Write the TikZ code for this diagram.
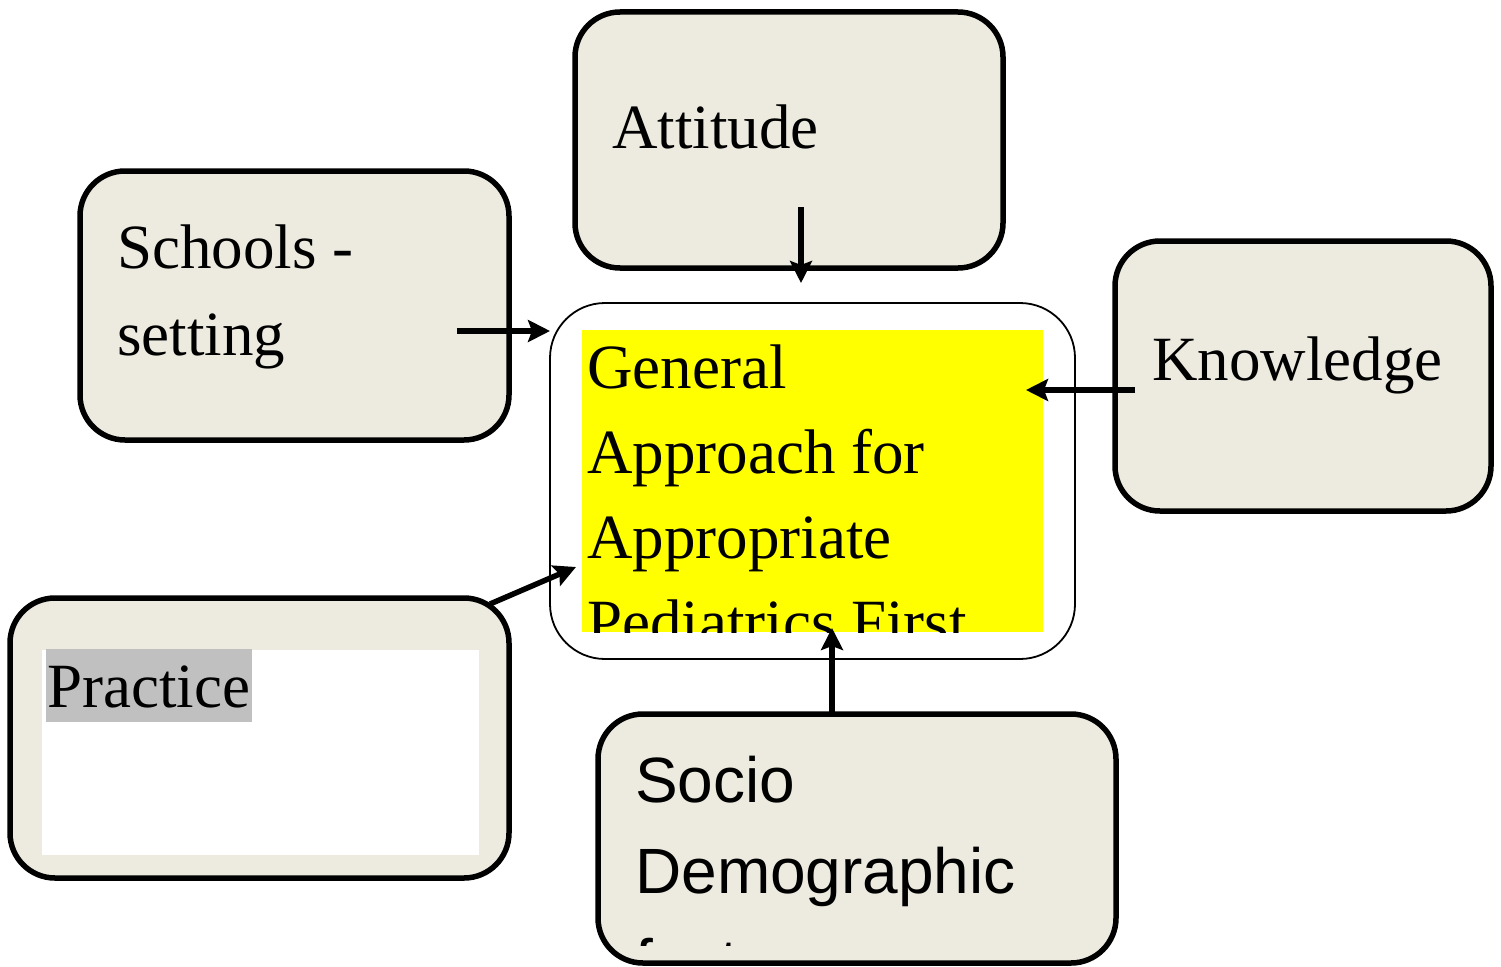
\documentclass[tikz,border=0pt]{standalone}
\usepackage{fontspec}
\setmainfont{Liberation Serif}
\setsansfont{Liberation Sans}
\usetikzlibrary{arrows.meta}
\definecolor{boxfill}{HTML}{EDEBE0}
\definecolor{markgray}{HTML}{C0C0C0}
\definecolor{markyellow}{HTML}{FFFF00}

\begin{document}
\begin{tikzpicture}[x=1pt, y=-1pt,
    factorbox/.style={draw, line width=5.5pt, fill=boxfill, rounded corners=45pt, inner sep=0pt},
    serif/.style={inner sep=0pt, anchor=base west, font=\fontsize{63}{86}\selectfont},
    sans/.style={inner sep=0pt, anchor=base west, font=\sffamily\fontsize{64}{90}\selectfont},
    arr/.style={line width=5.5pt, -{Stealth[length=22pt, width=22pt, inset=4pt]}}]
    \useasboundingbox (0,0) rectangle (1501,966);

    % the boxes around the centre
    \node[factorbox, minimum width=428pt, minimum height=256pt] (attitude) at (789,140) {};
    \node[factorbox, minimum width=429pt, minimum height=269pt] (schools) at (294.5,305.5) {};
    \node[factorbox, minimum width=376pt, minimum height=270pt] (knowledge) at (1303,376) {};
    \node[factorbox, minimum width=499pt, minimum height=280pt] (practice) at (259.5,738) {};
    \node[factorbox, minimum width=518pt, minimum height=249pt] (socio) at (857,838.5) {};
    \node[draw, line width=1.8pt, fill=white, rounded corners=55pt, inner sep=0pt,
          minimum width=525pt, minimum height=356pt] (centre) at (812.5,481) {};

    \node[serif] (att) at (612,148) {Attitude};
    \node[serif] (sch1) at (117,268) {Schools -};
    \node[serif] (sch2) at (117,355) {setting};
    \node[serif] (know) at (1152,380) {Knowledge};

    \fill[white] (42,650) rectangle (479,855);
    \fill[markgray] (46,649) rectangle (252,722);
    \node[serif] (prac) at (47,707) {Practice};

    \begin{scope}
        \clip (582,330) rectangle (1043,632);
        \fill[markyellow] (582,330) rectangle (1043,632);
        \foreach \txt [count=\i] in {General, Approach for, Appropriate, Pediatrics First}
            \node[serif] (gen\i) at (587,{388+85*(\i-1)}) {\txt};
    \end{scope}

    \begin{scope}
        \clip (600,716) rectangle (1110,945);
        \foreach \txt [count=\i] in {Socio, Demographic, factors}
            \node[sans] (soc\i) at (635,{802+91*(\i-1)}) {\txt};
    \end{scope}

    % arrows
    \coordinate (a1) at (457,331);   \coordinate (b1) at (550,331);
    \coordinate (a2) at (801,207);   \coordinate (b2) at (801,283);
    \coordinate (a3) at (1135,390);  \coordinate (b3) at (1026,390);
    \coordinate (a4) at (490,604);   \coordinate (b4) at (576,567);
    \coordinate (a5) at (832,714);   \coordinate (b5) at (832,628);
    \foreach \i in {1,...,5}
        \draw[arr] (a\i) -- (b\i);
\end{tikzpicture}
\end{document}
